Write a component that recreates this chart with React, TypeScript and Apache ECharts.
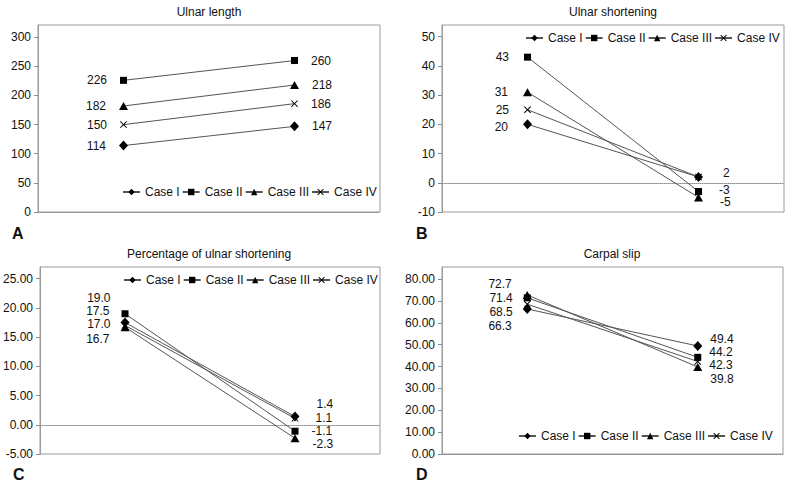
import React, { useEffect, useRef } from 'react';
import * as echarts from 'echarts';

// ---------- data ----------
const categories = ['Before', 'After'];
const caseNames = ['Case I', 'Case II', 'Case III', 'Case IV'];

// A: Ulnar length
const lengthCaseI = [114, 147];
const lengthCaseII = [226, 260];
const lengthCaseIII = [182, 218];
const lengthCaseIV = [150, 186];
const lengthTicks = [0, 50, 100, 150, 200, 250, 300];

// B: Ulnar shortening
const shorteningCaseI = [20, 2];
const shorteningCaseII = [43, -3];
const shorteningCaseIII = [31, -5];
const shorteningCaseIV = [25, 2];
const shorteningTicks = [-10, 0, 10, 20, 30, 40, 50];

// C: Percentage of ulnar shortening
const percentCaseI = [17.5, 1.4];
const percentCaseII = [19.0, -1.1];
const percentCaseIII = [16.7, -2.3];
const percentCaseIV = [17.0, 1.1];
const percentTicks = [-5, 0, 5, 10, 15, 20, 25];

// D: Carpal slip
const slipCaseI = [66.3, 49.4];
const slipCaseII = [71.4, 44.2];
const slipCaseIII = [72.7, 39.8];
const slipCaseIV = [68.5, 42.3];
const slipTicks = [0, 10, 20, 30, 40, 50, 60, 70, 80];

// ---------- styling ----------
const FONT = '"Liberation Sans", Arial, sans-serif';
const FS = 12;
const X_SYMBOL = 'path://M0,1L1,0L5,4L9,0L10,1L6,5L10,9L9,10L5,6L1,10L0,9L4,5Z';
const symbols = ['diamond', 'rect', 'triangle', X_SYMBOL];
const symbolSizes: any[] = [[9, 10], 7, [9, 8], 7];

type Off = [number, number] | null;

const panels = [
  {
    title: 'Ulnar length', letter: 'A',
    grid: { left: 38, top: 25, width: 342, height: 187 },
    min: 0, max: 321, step: 50, ticks: lengthTicks, tickDec: 0, labelDec: 0,
    series: [lengthCaseI, lengthCaseII, lengthCaseIII, lengthCaseIV],
    legend: { left: 122, top: 186 },
    offsets: [
      [[-1, 0], [1, 0]], [[-1, 0], [1, 0]], [[-1, 0], [1, 0]], [[-1, 0], [1, 0]],
    ] as Off[][],
    letterPos: [12, 233], titlePos: [209, 12],
  },
  {
    title: 'Ulnar shortening', letter: 'B',
    grid: { left: 442, top: 25, width: 342, height: 187 },
    min: -10, max: 54, step: 10, ticks: shorteningTicks, tickDec: 0, labelDec: 0,
    series: [shorteningCaseI, shorteningCaseII, shorteningCaseIII, shorteningCaseIV],
    legend: { left: 525, top: 32 },
    offsets: [
      [[-3, 3], [8, -4]], [[-3, 0], [5, -2]], [[-3, 0], [5, 5]], [[-3, 0], null],
    ] as Off[][],
    letterPos: [416, 233], titlePos: [613, 12],
  },
  {
    title: 'Percentage of ulnar shortening', letter: 'C',
    grid: { left: 37, top: 267, width: 343, height: 187 },
    min: -5, max: 27, step: 5, ticks: percentTicks, tickDec: 2, labelDec: 1,
    series: [percentCaseI, percentCaseII, percentCaseIII, percentCaseIV],
    legend: { left: 123, top: 274 },
    offsets: [
      [[1, -11.5], [5, -13]], [[1, -16], [1, 0]], [[1, 11.5], [1, 6]], [[1, -1], [5, 0]],
    ] as Off[][],
    letterPos: [13, 474], titlePos: [209, 254],
  },
  {
    title: 'Carpal slip', letter: 'D',
    grid: { left: 442, top: 267, width: 341, height: 187 },
    min: 0, max: 85.5, step: 10, ticks: slipTicks, tickDec: 2, labelDec: 1,
    series: [slipCaseI, slipCaseII, slipCaseIII, slipCaseIV],
    legend: { left: 518, top: 430 },
    offsets: [
      [[1, 17], [-4, -7]], [[1, 0], [-4, -5]], [[1, -10.5], [-4, 12]], [[1, 8], [-4, 4]],
    ] as Off[][],
    letterPos: [416, 474], titlePos: [612, 254],
  },
];

function buildOption() {
  const grid: any[] = [];
  const xAxis: any[] = [];
  const yAxis: any[] = [];
  const legend: any[] = [];
  const series: any[] = [];
  const graphic: any[] = [];

  panels.forEach((p, i) => {
    grid.push({ ...p.grid, show: true, borderColor: '#9a9a9a', borderWidth: 1, backgroundColor: 'transparent' });
    xAxis.push({
      type: 'category', gridIndex: i, data: categories, boundaryGap: true,
      axisLine: { show: true, onZero: true, lineStyle: { color: '#8c8c8c', type: 'dotted', width: 1 } },
      axisTick: { show: false }, axisLabel: { show: false }, splitLine: { show: false },
    });
    yAxis.push({
      type: 'value', gridIndex: i, min: p.min, max: p.max, interval: p.step,
      axisLine: { show: true, lineStyle: { color: '#9a9a9a' } },
      axisTick: { show: true, length: 4, lineStyle: { color: '#8c8c8c' }, customValues: p.ticks },
      axisLabel: {
        customValues: p.ticks, margin: 7, fontSize: FS, color: '#111', fontFamily: FONT,
        formatter: (v: number) => (p.ticks.indexOf(v) >= 0 ? v.toFixed(p.tickDec) : ''),
      },
      splitLine: { show: false },
    });
    legend.push({
      data: caseNames, left: p.legend.left, top: p.legend.top, orient: 'horizontal',
      width: 300,
      itemWidth: 17, itemHeight: 8, itemGap: 2, padding: 0,
      textStyle: { fontSize: FS, color: '#111', fontFamily: FONT },
      selectedMode: false,
    });
    p.series.forEach((vals, k) => {
      series.push({
        type: 'line', name: caseNames[k], xAxisIndex: i, yAxisIndex: i,
        symbol: symbols[k], symbolSize: symbolSizes[k],
        lineStyle: { color: '#555', width: 1 },
        itemStyle: { color: '#000' },
        emphasis: { disabled: true },
        data: vals.map((v, j) => {
          const off = p.offsets[k][j];
          return {
            value: v,
            label: off
              ? {
                  show: true, position: j === 0 ? 'left' : 'right', distance: 12,
                  offset: off, fontSize: FS, lineHeight: 10, color: '#111', fontFamily: FONT,
                  formatter: () => v.toFixed(p.labelDec),
                }
              : { show: false },
          };
        }),
      });
    });
    graphic.push({
      type: 'text', x: p.titlePos[0], y: p.titlePos[1],
      style: { text: p.title, fontSize: FS, fill: '#111', fontFamily: FONT, textAlign: 'center', textVerticalAlign: 'middle' },
    });
    graphic.push({
      type: 'text', x: p.letterPos[0], y: p.letterPos[1],
      style: { text: p.letter, fontSize: 16, fontWeight: 'bold', fill: '#111', fontFamily: FONT, textAlign: 'left', textVerticalAlign: 'middle' },
    });
  });

  return {
    animation: false,
    backgroundColor: '#fff',
    textStyle: { fontFamily: FONT },
    grid, xAxis, yAxis, legend, series, graphic,
  };
}

export default function App() {
  const ref = useRef<HTMLDivElement>(null);
  useEffect(() => {
    if (!ref.current) return;
    const chart = echarts.init(ref.current, undefined, { renderer: 'svg' });
    chart.setOption(buildOption() as any);
    return () => chart.dispose();
  }, []);
  return (
    <div
      ref={ref}
      style={{ position: 'absolute', left: 0, top: 0, width: 791, height: 485, background: '#fff' }}
    />
  );
}
